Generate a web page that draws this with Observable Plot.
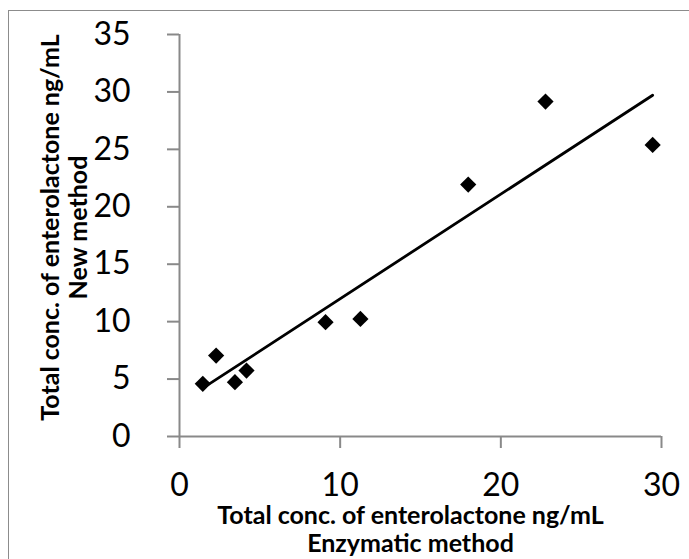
<!DOCTYPE html>
<html>
<head>
<meta charset="utf-8">
<script src="https://cdn.jsdelivr.net/npm/d3@7"></script>
<script src="https://cdn.jsdelivr.net/npm/@observablehq/plot@0.6"></script>
<style>
  html, body { margin: 0; padding: 0; background: #fff; overflow: hidden; width: 689px; height: 559px; }
  #frame { position: absolute; left: 8px; top: 10px; width: 720px; height: 600px; border: 1.5px solid #8c8c8c; box-sizing: border-box; }
  #chart { position: absolute; left: 0; top: 0; }
</style>
</head>
<body>
<div id="frame"></div>
<div id="chart"></div>
<script>
// Data
const enzymatic = [1.45, 2.28, 3.45, 4.17, 9.09, 11.26, 17.97, 22.78, 29.45];
const newMethod = [4.59, 7.05, 4.73, 5.74, 9.95, 10.24, 21.93, 29.16, 25.39];
const xTicks = [0, 10, 20, 30];
const yTicks = [0, 5, 10, 15, 20, 25, 30, 35];
const xTitle = ["Total conc. of enterolactone ng/mL", "Enzymatic method"];
const yTitle = ["Total conc. of enterolactone ng/mL", "New method"];

const data = enzymatic.map((x, i) => ({x, y: newMethod[i]}));
const axisColor = "#898989";

const chart = Plot.plot({
  width: 689,
  height: 559,
  marginLeft: 179,
  marginRight: 28,
  marginTop: 34,
  marginBottom: 123,
  style: {fontFamily: "Lato", background: "transparent", color: "black"},
  x: {domain: [0, 30]},
  y: {domain: [0, 35]},
  marks: [
    Plot.axisY(yTicks, {tickSize: 12, tickPadding: 37, fontSize: 32, stroke: axisColor, strokeWidth: 2, fill: "black", label: null}),
    Plot.axisX(xTicks, {tickSize: 12, tickPadding: 25, fontSize: 32, stroke: axisColor, strokeWidth: 2, fill: "black", label: null}),
    Plot.ruleX([0], {stroke: axisColor, strokeWidth: 2}),
    Plot.ruleY([0], {stroke: axisColor, strokeWidth: 2}),
    Plot.linearRegressionY(data, {x: "x", y: "y", ci: 0, stroke: "black", strokeWidth: 2.8}),
    Plot.dot(data, {x: "x", y: "y", symbol: "diamond2", r: 7.3, fill: "black", stroke: "none"}),
    Plot.text([xTitle.join("\n")], {frameAnchor: "bottom", textAnchor: "middle", lineAnchor: "top", dx: -10, dy: 68, fontSize: 25, fontWeight: "bold", lineHeight: 1.12, fill: "black"}),
    Plot.text([yTitle.join("\n")], {frameAnchor: "left", textAnchor: "middle", lineAnchor: "top", rotate: -90, dx: -140, dy: -8, fontSize: 25, fontWeight: "bold", lineHeight: 1.12, fill: "black"})
  ]
});
document.getElementById("chart").appendChild(chart);
</script>
</body>
</html>
